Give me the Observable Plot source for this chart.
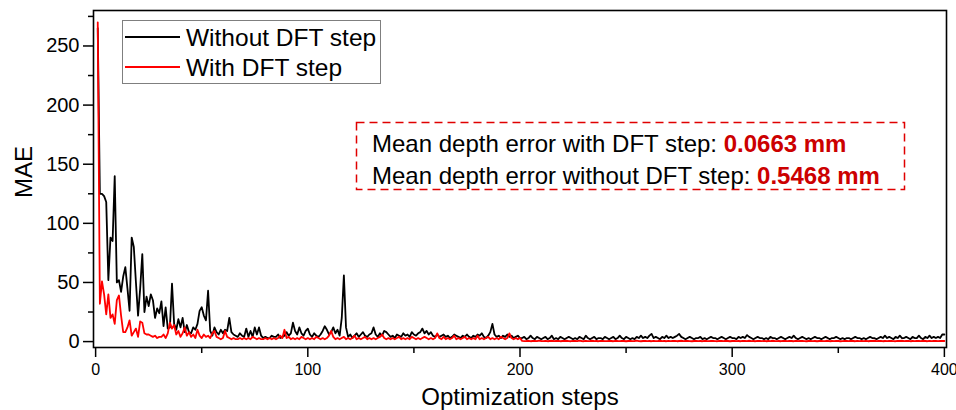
<!DOCTYPE html>
<html>
<head>
<meta charset="utf-8">
<script src="https://cdn.jsdelivr.net/npm/d3@7"></script>
<script src="https://cdn.jsdelivr.net/npm/@observablehq/plot@0.6"></script>
<style>
  html, body { margin: 0; padding: 0; background: #fff; }
  #chart { width: 956px; height: 410px; }
  svg { font-family: "Liberation Sans", Arial, sans-serif; }
</style>
</head>
<body>
<div id="chart"></div>
<script>
// ---- Data ----
const withoutDFT = [
  // 1-30
  265,125,125,123,118,52,88,85,140,50,52,42,55,63,45,26,88,80,50,22,45,74,25,38,30,40,35,20,28,24,
  // 31-56
  34,13,29,11,12,49,15,10,19,12,20,8,14,8,7,12,10,15,26,29,22,18,43,9,5,12,
  // 57-100
  8,6,10,7,10,9,20,8,6,5,4,7,5,4,11,4,9,4,12,6,12,5,3,4,3,3,5,4,4,6,3,4,5,8,5,7,16,9,6,12,7,5,9,11,
  // 101-150
  6,4,7,5,4,6,9,13,10,6,8,12,7,10,5,20,56,12,4,6,3,5,7,4,6,8,5,4,6,7,12,6,4,7,5,9,8,6,4,5,3,6,5,4,7,5,6,4,8,6,
  // 151-200
  5,7,8,11,7,9,6,8,5,4,6,4,5,6,4,5,3,4,6,5,4,3,5,4,6,4,3,5,4,6,5,7,4,3,5,8,15,6,4,5,3,5,4,6,4,5,3,4,5,3,
  // 201-300
  3,4,2,3,5,3,2,4,3,2,3,4,2,3,5,2,3,2,4,3,
  2,3,4,3,2,3,2,4,3,2,5,3,2,3,4,2,3,3,2,4,
  3,2,3,4,2,3,5,3,2,4,3,2,3,2,4,3,5,3,4,3,
  5,6.5,3,4,3,2,4,3,5,3,4,3,4,5,6.5,4,3,2,3,4,
  3,2,3,3,4,2,3,2,3,4,3,3,2,3,4,3,2,3,4,3,
  // 301-400
  3,2,4,3,4,3,5.5,4,3,2,3,4,3,3,2,3,2,4,3,3,
  2,3,4,3,2,3,4,3,5,3,2,3,4,3,2,3,2,3,4,3,
  3,2,3,4,3,2,3,3,4,3,2,3,2,3,3,2,3,4,3,3,
  2,3,2,3,4,3,3,2,3,4,3,5,3,4,3,2,4,3,5,3,
  3,4,3,2,4,3,3,5,3,2,4,3,5,3,4,3,4,3,6,6
];
const withDFT = [
  // 1-30
  270,32,51,40,23,40,20,23,15,35,39,22,8,8,12,18,5,8,11,4,17,16,7,6,6,5,4,5,3,4,
  // 31-60
  4,6,3,7,16,11,14,6,9,4,7,12,5,8,4,6,3,10,5,3,6,4,5,3,7,9,4,3,2,3,
  // 61-100
  9,4,3,2,3,2,2,3,2,3,2,3,2,4,3,2,3,2,2,3,
  2,3,2,3,2,3,5,3,10,3,4,2,3,2,3,2,4,3,2,3,
  // 101-200
  2,3,2,4,3,2,3,2,3,5,9,4,2,3,2,3,4,2,3,2,
  3,5,2,3,2,3,4,2,3,2,3,2,3,4,6,3,2,3,2,3,
  2,3,4,2,3,2,3,2,4,3,2,3,2,3,4,3,2,3,2,3,
  7,3,2,4,2,3,2,3,5,2,3,2,3,4,2,3,2,3,2,5,
  2,3,2,3,4,2,3,2,3,2,4,3,2,3,7,3,2,3,2,3,
  // 201-400
  0.6,0.4,0.5,0.7,0.3,0.5,0.6,0.4,0.8,0.5,0.4,0.6,0.3,0.5,0.7,0.4,0.5,0.6,0.3,0.5,
  0.5,0.7,0.4,0.3,0.6,0.5,0.4,0.8,0.5,0.3,0.6,0.4,0.5,0.7,0.4,0.5,0.3,0.6,0.5,0.4,
  0.4,0.6,0.5,0.3,0.7,0.5,0.4,0.6,0.5,0.3,0.5,0.6,0.4,0.5,0.8,0.4,0.3,0.5,0.6,0.4,
  0.5,0.3,0.6,0.4,0.5,0.7,0.4,0.5,0.3,0.6,0.4,0.5,0.6,0.3,0.5,0.7,0.4,0.5,0.6,0.4,
  0.3,0.5,0.6,0.4,0.5,0.3,0.7,0.5,0.4,0.6,0.5,0.4,0.3,0.6,0.5,0.4,0.7,0.5,0.3,0.5,
  0.6,0.4,0.5,0.3,0.6,0.5,0.4,0.7,0.4,0.5,0.3,0.6,0.5,0.4,0.6,0.3,0.5,0.4,0.7,0.5,
  0.4,0.5,0.3,0.6,0.5,0.4,0.6,0.5,0.3,0.7,0.4,0.5,0.6,0.4,0.3,0.5,0.6,0.4,0.5,0.3,
  0.5,0.6,0.4,0.5,0.7,0.3,0.5,0.4,0.6,0.5,0.3,0.4,0.6,0.5,0.4,0.7,0.5,0.3,0.6,0.4,
  0.5,0.4,0.6,0.3,0.5,0.5,0.7,0.4,0.5,0.6,0.3,0.5,0.4,0.6,0.5,0.4,0.3,0.6,0.5,0.7,
  0.4,0.5,0.6,0.3,0.5,0.4,0.6,0.5,0.4,0.7,0.5,0.3,0.6,0.4,0.5,0.6,0.4,0.5,0.6,0.5
];
const steps = d3.range(1, withoutDFT.length + 1);

const yMajorTicks = [0, 50, 100, 150, 200, 250];
const yMinorTicks = [25, 75, 125, 175, 225, 275];
const xMajorTicks = [0, 100, 200, 300, 400];
const xMinorTicks = [50, 150, 250, 350];

const seriesNames = ["Without DFT step", "With DFT step"];
const seriesColors = ["#000000", "#ff0000"];
const xLabel = "Optimization steps";
const yLabel = "MAE";
const noteLines = [
  ["Mean depth error with DFT step: ", "0.0663 mm"],
  ["Mean depth error without DFT step: ", "0.5468 mm"]
];

// ---- Build table ----
const rows = [];
steps.forEach((s, i) => {
  rows.push({step: s, value: withoutDFT[i], series: seriesNames[0]});
});
steps.forEach((s, i) => {
  rows.push({step: s, value: withDFT[i], series: seriesNames[1]});
});

const font = '"Liberation Sans", Arial, sans-serif';

const chart = Plot.plot({
  width: 956,
  height: 410,
  marginLeft: 93,
  marginRight: 10,
  marginTop: 10,
  marginBottom: 63,
  style: {fontFamily: font, background: "#fff", color: "#000", overflow: "visible"},
  x: {domain: [-1, 401]},
  y: {domain: [-5, 280]},
  color: {domain: seriesNames, range: seriesColors},
  marks: [
    Plot.lineY(rows.filter(d => d.series === seriesNames[0]), {x: "step", y: "value", stroke: "series", strokeWidth: 1.8}),
    Plot.lineY(rows.filter(d => d.series === seriesNames[1]), {x: "step", y: "value", stroke: "series", strokeWidth: 1.8}),
    Plot.axisY({ticks: yMajorTicks, tickSize: 10, tickPadding: 4, fontSize: 20, label: null, strokeWidth: 1.5}),
    Plot.axisY({ticks: yMinorTicks.filter(t => t < 280), tickSize: 5, text: null, label: null, strokeWidth: 1.5}),
    Plot.axisX({ticks: xMajorTicks, tickSize: 10, tickPadding: 6, fontSize: 16, label: null, strokeWidth: 1.5}),
    Plot.axisX({ticks: xMinorTicks, tickSize: 6, text: null, label: null, strokeWidth: 1.5}),
    Plot.frame({stroke: "#000", strokeWidth: 1.6}),
    Plot.text([yLabel], {frameAnchor: "left", textAnchor: "middle", lineAnchor: "middle", dx: -69, dy: -7, rotate: -90, fontSize: 24, fill: "#000"}),
    Plot.text([xLabel], {frameAnchor: "bottom", textAnchor: "middle", lineAnchor: "middle", dy: 50, fontSize: 24, fill: "#000"})
  ]
});

document.getElementById("chart").appendChild(chart);

// ---- Legend and annotation box (drawn in pixel space on top) ----
const svg = d3.select(chart);
const lg = svg.append("g").attr("font-family", font).attr("text-anchor", "start");
lg.append("rect").attr("x", 122.5).attr("y", 20.5).attr("width", 258).attr("height", 63)
  .attr("fill", "#fff").attr("stroke", "#7f7f7f").attr("stroke-width", 1);
seriesNames.forEach((name, i) => {
  const cy = 37 + i * 30;
  lg.append("line").attr("x1", 125).attr("x2", 180).attr("y1", cy).attr("y2", cy)
    .attr("stroke", seriesColors[i]).attr("stroke-width", 1.8);
  lg.append("text").attr("x", 186).attr("y", cy + 8.5).attr("font-size", 24.5)
    .attr("text-anchor", "start").attr("fill", "#000").text(name);
});

const ng = svg.append("g").attr("font-family", font).attr("text-anchor", "start");
ng.append("rect").attr("x", 356.5).attr("y", 122.5).attr("width", 548).attr("height", 67)
  .attr("fill", "none").attr("stroke", "#e00000").attr("stroke-width", 1.5).attr("stroke-dasharray", "8,5");
noteLines.forEach((ln, i) => {
  const t = ng.append("text").attr("x", 372).attr("y", 152 + i * 32).attr("font-size", 24)
    .attr("text-anchor", "start").attr("fill", "#000");
  t.append("tspan").text(ln[0]);
  t.append("tspan").attr("font-weight", "bold").attr("fill", "#cc0000").text(ln[1]);
});
</script>
</body>
</html>
